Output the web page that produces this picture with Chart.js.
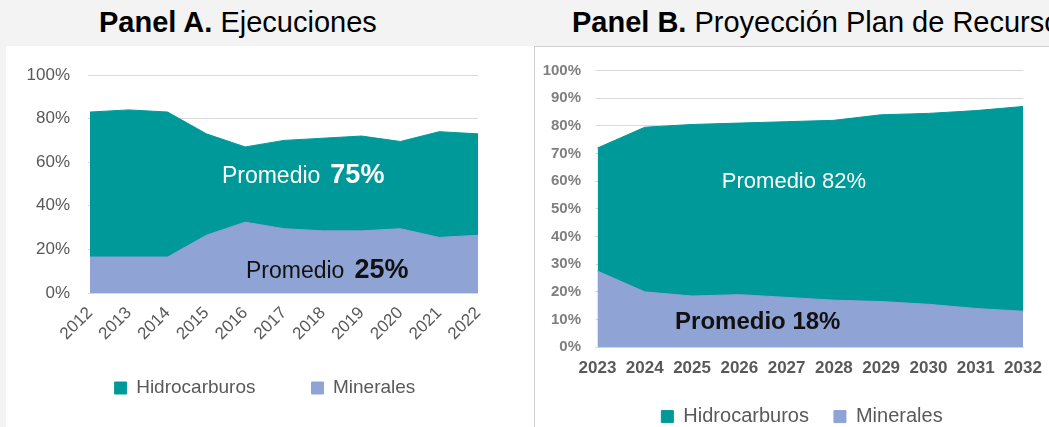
<!DOCTYPE html>
<html>
<head>
<meta charset="utf-8">
<script src="https://cdn.jsdelivr.net/npm/chart.js@4"></script>
<style>
  html, body { margin: 0; padding: 0; width: 1049px; height: 427px; overflow: hidden; background: #f3f3f3; font-family: "Liberation Sans", Arial, sans-serif; }
  .title { position: absolute; top: 8px; font-size: 29px; line-height: 29px; color: #000; white-space: nowrap; }
  #boxA { position: absolute; left: 6px; top: 46px; width: 528px; height: 381px; background: #fff; overflow: hidden; }
  #boxB { position: absolute; left: 534px; top: 46px; width: 530px; height: 420px; background: #fff; border: 1px solid #d0d0d0; overflow: hidden; }
  canvas { display: block; }
</style>
</head>
<body>
<div class="title" style="left:99px"><b>Panel A.</b> Ejecuciones</div>
<div class="title" style="left:572px"><b>Panel B.</b> Proyección Plan de Recursos</div>
<div id="boxA"><canvas id="chartA" width="518" height="400"></canvas></div>
<div id="boxB"><canvas id="chartB" width="534" height="400"></canvas></div>

<script>
// Panel A - Ejecuciones (% share)
const yearsA = ['2012', '2013', '2014', '2015', '2016', '2017', '2018', '2019', '2020', '2021', '2022'];
const hidroA = [83, 84, 83, 73, 67, 70, 71, 72, 69.5, 74, 73];
const mineA = [16.5, 16.5, 16.5, 26.5, 32.5, 29.5, 28.5, 28.5, 29.5, 25.5, 26.5];

// Panel B - Proyección Plan de Recursos (% share)
const yearsB = ['2023', '2024', '2025', '2026', '2027', '2028', '2029', '2030', '2031', '2032'];
const hidroB = [72, 79.5, 80.5, 81, 81.5, 82, 84, 84.5, 85.5, 87];
const mineB = [27.5, 20, 18.5, 19, 18, 17, 16.5, 15.5, 14, 13];

const TEAL = '#009999';
const LAV = '#8fa3d4';
const FONT = '"Liberation Sans", Arial, sans-serif';

// draws the "Promedio" notes at positions given in axis units
const notesPlugin = {
  id: 'notes',
  afterDatasetsDraw(chart, args, opts) {
    const { ctx, scales: { x, y } } = chart;
    ctx.save();
    ctx.textAlign = 'left';
    ctx.textBaseline = 'alphabetic';
    (opts.items || []).forEach(n => {
      let px = x.getPixelForValue(n.x);
      const py = y.getPixelForValue(n.y);
      ctx.fillStyle = n.color;
      n.parts.forEach(p => {
        ctx.font = p.font + ' ' + FONT;
        ctx.fillText(p.text, px, py);
        px += ctx.measureText(p.text).width + (p.gap || 0);
      });
    });
    ctx.restore();
  }
};

// legend padding is also used vertically, pull the row back up
const legendShift = {
  id: 'legendShift',
  afterLayout(chart, args, opts) {
    const lg = chart.legend;
    if (lg && opts.dy) { lg.top -= opts.dy; lg.bottom -= opts.dy; }
  }
};

function areaSet(label, data, color, order) {
  return { label, data, backgroundColor: color, borderColor: color, borderWidth: 1, fill: 'origin', pointRadius: 0, tension: 0, order };
}

// empty right axis, only keeps room on the right side
function spacer(w) {
  return { position: 'right', grid: { display: false, drawTicks: false }, border: { display: false }, ticks: { display: false }, afterFit: s => { s.width = w; } };
}

const chartA = new Chart(document.getElementById('chartA'), {
  type: 'line',
  data: {
    labels: yearsA,
    datasets: [areaSet('Hidrocarburos', hidroA, TEAL, 1), areaSet('Minerales', mineA, LAV, 0)]
  },
  options: {
    responsive: false,
    animation: false,
    layout: { padding: { left: 0, right: 0, top: 29, bottom: 10 } },
    plugins: {
      legend: {
        position: 'bottom',
        labels: { boxWidth: 12, boxHeight: 12, padding: 56, color: '#595959', font: { size: 19, family: FONT }, sort: (a, b) => a.datasetIndex - b.datasetIndex }
      },
      legendShift: { dy: 28.5 },
      tooltip: { enabled: false },
      notes: {
        items: [
          { x: 3.4, y: 50.5, color: '#ffffff', parts: [{ text: 'Promedio', font: '23px', gap: 10 }, { text: '75%', font: 'bold 27px' }] },
          { x: 4.02, y: 6.9, color: '#111111', parts: [{ text: 'Promedio', font: '23px', gap: 10 }, { text: '25%', font: 'bold 27px' }] }
        ]
      }
    },
    scales: {
      x: {
        grid: { display: false, drawTicks: false },
        border: { display: false },
        ticks: { autoSkip: false, maxRotation: 45, minRotation: 45, padding: 10, color: '#595959', font: { size: 17, family: FONT } },
        afterFit: s => { s.height = 58; }
      },
      y: {
        min: 0, max: 100,
        grid: { color: '#d9d9d9', tickColor: '#d9d9d9', tickLength: 2 },
        border: { display: false },
        ticks: { stepSize: 20, padding: 18, color: '#595959', font: { size: 17, family: FONT }, callback: v => v + '%' },
        afterFit: s => { s.width = 84; }
      },
      y2: spacer(46)
    }
  },
  plugins: [notesPlugin, legendShift]
});

const chartB = new Chart(document.getElementById('chartB'), {
  type: 'line',
  data: {
    labels: yearsB,
    datasets: [areaSet('Hidrocarburos', hidroB, TEAL, 1), areaSet('Minerales', mineB, LAV, 0)]
  },
  options: {
    responsive: false,
    animation: false,
    layout: { padding: { left: 0, right: 0, top: 17.6, bottom: 10.4 } },
    plugins: {
      legend: {
        position: 'bottom',
        labels: { boxWidth: 12, boxHeight: 12, padding: 25, color: '#595959', font: { size: 20, family: FONT }, sort: (a, b) => a.datasetIndex - b.datasetIndex }
      },
      tooltip: { enabled: false },
      notes: {
        items: [
          { x: 2.63, y: 57.4, color: '#ffffff', parts: [{ text: 'Promedio 82%', font: '22px' }] },
          { x: 1.64, y: 6.7, color: '#111111', parts: [{ text: 'Promedio 18%', font: 'bold 24px' }] }
        ]
      }
    },
    scales: {
      x: {
        grid: { display: false, drawTicks: false },
        border: { display: true, color: '#d9d9d9' },
        ticks: { autoSkip: false, maxRotation: 0, minRotation: 0, padding: 11, color: '#595959', font: { size: 17, weight: 'bold', family: FONT } },
        afterFit: s => { s.height = 34.4; }
      },
      y: {
        min: 0, max: 100,
        grid: { color: '#d9d9d9', tickColor: '#d9d9d9', tickLength: 2 },
        border: { display: false },
        ticks: { stepSize: 10, padding: 14.5, color: '#7f7f7f', font: { size: 15, weight: 'bold', family: FONT }, callback: v => v + '%' },
        afterFit: s => { s.width = 62.5; }
      },
      y2: spacer(46)
    }
  },
  plugins: [notesPlugin]
});
</script>
</body>
</html>
